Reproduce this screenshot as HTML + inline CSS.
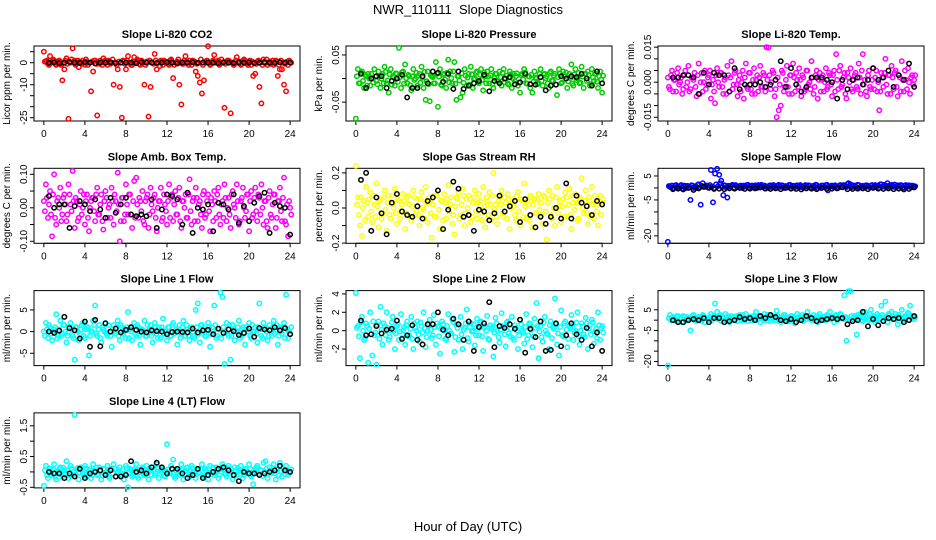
<!DOCTYPE html>
<html><head><meta charset="utf-8"><style>
html,body{margin:0;padding:0;background:#fff}
svg{display:block;font-family:"Liberation Sans",Arial,sans-serif}
</style></head><body>
<svg id="chart" width="936" height="540" viewBox="0 0 936 540">
<text x="468" y="14" text-anchor="middle" font-size="13">NWR_110111&#160; Slope Diagnostics</text>
<text x="468" y="531" text-anchor="middle" font-size="13">Hour of Day (UTC)</text>
</svg>
<script>
// color series A sampled every 12 min (hour = i/5); series B interleaved (hour = i/5 + 0.1); black every 30 min (hour = 0.5*(i+1))
const xTicks = [0,4,8,12,16,20,24];
const titles = ["Slope Li-820 CO2","Slope Li-820 Pressure","Slope Li-820 Temp.","Slope Amb. Box Temp.","Slope Gas Stream RH","Slope Sample Flow","Slope Line 1 Flow","Slope Line 2 Flow","Slope Line 3 Flow","Slope Line 4 (LT) Flow"];
const yTitles = ["Licor ppm per min.","kPa per min.","degrees C per min.","degrees C per min.","percent per min.","ml/min per min.","ml/min per min.","ml/min per min.","ml/min per min.","ml/min per min."];
const yTicks = [[5,0,-5,-10,-15,-20,-25],[-0.05,0,0.05],[-0.015,-0.01,-0.005,0,0.005,0.01,0.015],[-0.1,-0.05,0,0.05,0.1],[-0.2,-0.1,0,0.1,0.2],[5,0,-5,-10,-15,-20],[-5,0,5],[-2,0,2,4],[5,0,-5,-10,-15,-20],[-0.5,0,0.5,1,1.5]];
const yTickLabels = [{"0":"0","-10":"-10","-25":"-25"},{"0.05":"0.05","-0.05":"-0.05"},{"0.015":"0.015","0":"0.000","-0.015":"-0.015"},{"0.1":"0.10","0":"0.00","-0.1":"-0.10"},{"0.2":"0.2","0":"0.0","-0.2":"-0.2"},{"5":"5","-5":"-5","-20":"-20"},{"5":"5","0":"0","-5":"-5"},{"4":"4","2":"2","0":"0","-2":"-2"},{"5":"5","-5":"-5","-20":"-20"},{"1.5":"1.5","0.5":"0.5","-0.5":"-0.5"}];
const yDomains = [[-26.5,7.6],[-0.09,0.069],[-0.0166,0.0155],[-0.106,0.118],[-0.201,0.226],[-23.1,8.2],[-7.85,9.46],[-3.8,4.36],[-22,14.3],[-0.52,1.92]];

const co2 = [5,0.5,-0.5,3,0,1,-1,0.5,-0.5,-8, -3,2,-25.5,0,6.5,1,-0.5,-2,0,1, -1,0.5,0,-13,-4,1,-24,-0.5,0,2, 1,-1,0.5,0,-10,0,-3,-11,-25,0.5, -3,3,0,-1,2.5,0.5,1,-1,0,-10, 0.5,-24.5,-11,0,4,-3,0,1,-1,0.5, 0,-1,1.5,-7,0,0.5,-10,-19,-0.5,3, 0,1,-1,0.5,-4,-6,-9,-14,-8,0, 7.5,-1,0.5,3.5,0,1,-0.5,0,-20.5,0.5, 1,-23,0,-0.5,2.5,0,-1,0.5,1,-0.5, 0,-1,-6,-5,0.5,-11,-18.5,1.5,0,-1, 0.5,0,-1,1,-6,-3,-3,-10,-13,-1, 0];
const co2B = [0.5,1,-1,0,1.5,-0.5,0.5,1,-1,0, 1,-0.5,0.5,1.5,0,-1,1,0.5,-0.5,0, 1.5,-1,0,0.5,1,-0.5,0,1,-1,0.5, 0,1,-0.5,1.5,0,-1,0.5,0,1,-0.5, 1,0,-1,0.5,0,1.5,-0.5,1,0,-1, 0.5,1,0,-0.5,1,0,-1.5,0.5,1,0, -0.5,1,0.5,-1,0,1.5,0,-0.5,1,0.5, -1,0,1,0.5,-0.5,0,1.5,-1,0.5,1, 0,-0.5,1,0,0.5,-1,1.5,0,-0.5,1, 0.5,0,-1,1,0,0.5,-0.5,1.5,0,-1, 1,0.5,0,-0.5,1,0,-1,0.5,1.5,0, -0.5,1,0,0.5,-1,1,0,-0.5,0.5,1, 0];
const co2Avg = [0,0.2,-0.2,0,0.3,0,-0.1,0.2,0,-0.3,0.1,0,0.2,-0.2,0,0.1,0,-0.2,0.3,0,0.1,-0.1,0,0.2,0,-0.3,0.1,0,0.2,-0.1,0,0.1,0,-0.2,0.2,0,-0.1,0.1,0,0.2,-0.2,0,0.1,0,-0.1,0.2,0,0.1];
const pres = [-0.085,0.02,-0.01,0.015,-0.02,0.005,0.01,-0.015,0,0.02, -0.005,0.015,-0.02,0.01,0.025,-0.01,-0.03,0.02,0.005,-0.015, 0.01,0.065,-0.02,0.015,0.03,-0.01,0.005,-0.025,0.02,0, -0.015,0.01,0.025,-0.02,-0.045,0.015,-0.048,0.005,-0.01,0.035, -0.06,0.02,-0.015,0.01,-0.02,0.04,0.015,-0.01,0.035,-0.045, 0.005,-0.04,-0.03,0.02,-0.015,0.01,0.025,-0.02,0,0.015, -0.01,0.02,-0.025,0.005,0.015,-0.01,0.02,-0.02,0.01,-0.005, 0.015,-0.015,0.02,0,-0.01,0.015,-0.02,0.01,0.005,-0.015, -0.03,0.01,0.02,-0.01,0.005,-0.02,-0.03,0.015,0,-0.01, 0.02,-0.015,0.01,0.005,-0.02,0.015,-0.005,0.01,-0.035,0.02, -0.01,0.015,0.005,-0.02,0.01,0.03,-0.015,0.02,0,-0.01, 0.025,-0.02,0.01,0.015,-0.015,0.02,-0.005,0.01,-0.02,0.015, -0.03];
const presB = [0.005,-0.01,0.012,-0.005,0.008,-0.015,0,0.01,-0.008,0.004, -0.012,0.006,0,-0.01,0.014,-0.004,0.009,-0.013,0.002,0.011, -0.007,0.003,0.013,-0.011,0.001,0.008,-0.014,0.005,-0.003,0.012, 0.006,-0.009,0.002,0.014,-0.006,-0.012,0.007,0.003,-0.01,0.01, 0.004,-0.013,0.008,-0.002,0.012,-0.008,0.001,0.015,-0.011,0.005, -0.004,0.011,-0.009,0.006,0.002,-0.013,0.009,-0.001,0.012,-0.007, 0.008,-0.003,0.013,-0.01,0.004,0.007,-0.012,0.001,0.01,-0.006, 0.003,0.012,-0.008,0.006,-0.013,0.009,0,-0.005,0.011,-0.009, 0.007,-0.002,0.013,-0.011,0.004,0.008,-0.007,0.002,-0.012,0.01, -0.005,0.009,0.001,-0.01,0.012,-0.004,0.006,-0.013,0.003,0.011, -0.008,0.005,0.013,-0.006,0.001,-0.011,0.009,-0.003,0.012,-0.009, 0.004,0.01,-0.005,0.007,-0.012,0.002,0.011,-0.007,0.005,-0.002, 0.006];
const presAvg = [0.01,-0.02,0,0.005,0.005,-0.02,-0.005,0,0.008,-0.04,-0.02,-0.02,0.005,-0.01,0.015,0.012,-0.007,0.01,-0.022,0.015,-0.022,-0.015,-0.01,-0.005,0.008,-0.027,-0.005,-0.01,0,0.003,-0.012,-0.008,0.01,-0.012,-0.013,0.003,-0.025,-0.015,-0.013,0.005,0,0.005,0.003,0.01,0,-0.015,0.015,-0.01];
const temp = [0.002,-0.003,0.005,0.001,-0.004,0.006,0,-0.005,0.003,-0.002, 0.007,-0.003,0.002,0.004,-0.006,0.008,0,-0.004,0.005,-0.001, 0.003,-0.007,0.001,-0.009,0.006,-0.002,0.004,-0.005,0.002,0.007, -0.004,0.009,-0.001,0.005,-0.006,0.003,0,-0.007,0.008,-0.003, 0.004,-0.005,0.006,0.001,-0.004,0.007,-0.002,0.003,0.015,0.0148, -0.003,0.005,-0.006,-0.015,-0.012,-0.01,0.004,-0.002,0.007,-0.005, 0.003,0.008,-0.004,0.001,0.006,-0.006,0.002,-0.003,0.005,0, 0.009,-0.005,0.003,-0.007,0.004,0.001,-0.004,0.006,-0.002,0.003, -0.006,0.005,0.012,-0.003,0.007,-0.001,0.004,-0.007,0.002,0.006, -0.004,0.003,-0.002,0.008,-0.005,0.012,0.001,-0.006,0.005,-0.003, 0.006,0.002,-0.004,-0.012,0.004,-0.002,0.01,-0.005,0.003,0.007, -0.003,0.005,-0.006,0.002,0.009,-0.004,0.001,0.006,-0.005,0.003, 0.001];
const tempB = [-0.002,0.003,-0.004,0.001,0.004,-0.001,0.002,-0.003,0.005,0, -0.004,0.002,0.001,-0.002,0.003,-0.005,0.004,0,-0.003,0.002, 0.005,-0.001,-0.004,0.003,0,0.004,-0.002,0.001,-0.005,0.003, 0.002,-0.003,0.004,-0.001,0.001,-0.004,0.005,0.002,-0.002,0.004, -0.003,0.001,-0.005,0.003,0.002,-0.002,0.004,-0.004,0.001,0.003, 0,0.004,-0.003,0.002,-0.001,0.005,-0.004,0.001,-0.002,0.003, -0.005,0.002,0.004,-0.002,0.001,0.003,-0.004,0.005,-0.001,-0.003, 0.002,-0.002,0.005,0.001,-0.004,0.003,0,-0.003,0.004,-0.001, 0.003,-0.004,0.001,0.005,-0.002,0.002,-0.005,0.004,0,-0.003, 0.001,0.004,-0.003,0.002,0.005,-0.001,-0.004,0.003,-0.002,0.001, -0.003,0.005,0,-0.004,0.002,0.004,-0.001,0.003,-0.005,0.002, 0.004,-0.002,0.003,-0.004,0.001,0.005,-0.003,0,0.002,-0.001, 0.003];
const tempAvg = [0.002,0.002,0.003,0.003,0.002,-0.005,0.004,-0.001,0.004,0.003,0.003,-0.004,0.006,-0.003,-0.001,-0.001,-0.001,0,-0.002,-0.001,0.001,0.009,-0.002,0.006,-0.001,-0.004,-0.002,0.002,0.002,0.002,0.001,0,-0.007,0.001,-0.003,0.001,0.002,-0.001,0.001,0.006,0.001,0.002,0.005,-0.002,0.003,0.001,0.008,-0.002];
const amb = [0.02,0.07,-0.03,0.05,-0.085,0.1,-0.05,0.03,0.06,-0.02, 0.04,-0.04,0.07,0.01,0.11,-0.06,0.02,-0.03,0.05,0, -0.05,0.04,-0.07,0.02,0.03,-0.04,0.06,-0.02,0.04,-0.065, 0.05,-0.03,0.01,0.06,-0.05,0.02,0.105,-0.1,0.03,-0.04, 0.07,-0.02,0.04,-0.06,0.08,0.09,-0.03,0.02,0.05,-0.05, 0.03,-0.06,0.06,-0.01,0.04,-0.07,0.02,0.06,-0.03,0.01, -0.05,0.07,0.03,-0.04,0.05,-0.02,0.06,-0.06,0.02,0.04, -0.03,0.085,-0.05,0.03,0.06,-0.04,0.02,-0.06,0.05,-0.02, 0.04,-0.07,0.01,0.05,-0.03,0.06,-0.05,0.02,0.07,-0.04, 0.03,-0.06,0.05,0,0.07,-0.05,0.02,0.06,-0.03,0.04, -0.07,0.05,-0.02,0.06,-0.04,0.03,0.07,-0.05,0.02,-0.06, 0.05,-0.03,0.04,-0.06,0.02,0.06,-0.04,0.09,-0.05,-0.085, 0];
const ambB = [-0.01,0.03,0.01,-0.02,0.04,-0.03,0.02,0,-0.04,0.03, 0.01,-0.02,0.04,-0.01,0.02,0.03,-0.04,0.01,-0.02,0.04, 0.02,-0.03,0,0.03,-0.01,0.04,-0.02,0.01,-0.04,0.02, 0.03,0,-0.03,0.02,0.04,-0.01,0.01,-0.04,0.03,-0.02, 0.01,0.04,-0.02,0.02,-0.03,0.01,0.03,-0.01,-0.04,0.02, 0.04,-0.02,0.01,0.03,-0.03,0,0.02,-0.04,0.04,-0.01, 0.02,-0.03,0.04,0.01,-0.02,0.03,-0.04,0.02,0,-0.03, 0.04,-0.01,0.02,-0.04,0.03,0.01,-0.02,0.04,-0.03,0.02, -0.01,0.03,-0.04,0.02,0.04,-0.02,0.01,-0.03,0.03,0, -0.02,0.04,0.01,-0.03,0.02,-0.04,0.03,0,-0.01,0.04, 0.02,-0.03,0.03,-0.01,0.04,-0.02,0,0.02,-0.04,0.03, -0.02,0.01,0.04,-0.03,0.02,-0.01,0.03,-0.04,0.01,0.02, -0.02];
const ambAvg = [0.035,0,0.01,0.01,-0.06,0.005,0.02,0.01,-0.01,0.025,-0.005,-0.03,0.03,-0.015,0.01,0.03,-0.02,-0.025,-0.02,-0.025,0.025,-0.06,-0.005,0.04,0.035,0.025,-0.05,0.045,-0.075,0,-0.005,0.01,-0.07,0.015,0.01,-0.005,0.04,-0.045,0.005,-0.04,0.015,0.035,0.045,-0.075,0.015,0.005,0,-0.08];
const rh = [0.24,0.06,-0.1,-0.16,0.04,0.12,-0.05,0.09,-0.08,0.02, 0.14,-0.11,0.05,-0.03,0.1,-0.13,0.07,-0.06,0.03,0.11, -0.09,0.04,-0.02,0.08,-0.12,0.06,0.02,-0.07,0.1,-0.04, 0.05,-0.1,0.09,-0.01,0.12,-0.08,0.03,-0.17,0.07,-0.05, 0.1,-0.12,0.04,0.08,-0.06,0.13,0.02,-0.09,-0.15,0.06, 0.09,-0.04,0.11,-0.1,0.05,0.07,-0.08,0.03,0.1,-0.06, 0.08,-0.03,0.12,-0.11,0.04,0.09,-0.07,0.2,0.02,-0.09, 0.06,0.1,-0.05,0.03,0.08,-0.12,0.05,0.01,-0.07,0.09, -0.1,0.04,0.14,-0.06,0.02,0.07,-0.11,0.05,-0.03,0.08, 0.03,-0.09,0.06,-0.18,0.1,-0.04,0.07,-0.1,0.12,0.01, -0.08,0.05,0.09,-0.05,0.11,-0.12,0.03,0.08,-0.07,0.06, 0.17,-0.03,0.1,-0.09,0.04,0.12,-0.06,0.02,-0.1,0.07, 0.03];
const rhB = [0.02,-0.04,0.06,0,-0.07,0.03,0.05,-0.02,0.07,-0.05, 0.01,0.04,-0.06,0.06,-0.01,0.03,-0.04,0.07,0,-0.03, 0.05,-0.06,0.02,0.04,-0.03,0.07,-0.05,0.01,0.06,-0.02, -0.04,0.05,0,-0.06,0.03,0.06,-0.03,0.02,-0.05,0.07, -0.01,0.04,-0.07,0.03,0.05,-0.02,0.06,-0.04,0.01,0.05, -0.06,0.02,0.07,-0.03,0,0.05,-0.05,0.06,-0.02,0.03, 0.04,-0.07,0.01,0.06,-0.04,0.02,0.07,-0.01,-0.05,0.04, 0.02,-0.03,0.06,-0.06,0.05,0,0.03,-0.04,0.07,-0.02, 0.05,-0.05,0.01,0.04,-0.07,0.06,0.02,-0.03,0.05,-0.01, -0.04,0.07,-0.02,0.03,0.05,-0.06,0,0.06,-0.03,0.04, 0.01,-0.05,0.06,0.02,-0.04,0.07,-0.01,0.03,-0.06,0.05, 0,0.04,-0.03,0.06,-0.05,0.02,0.07,-0.02,0.04,-0.04, 0.05];
const rhAvg = [0.16,0.2,-0.13,0.06,-0.03,-0.15,0.03,0.08,-0.02,-0.04,-0.05,0.01,-0.06,0.04,0.06,0.1,-0.12,-0.01,0.15,0.11,-0.05,-0.04,-0.13,-0.01,-0.02,-0.07,-0.03,0.07,-0.02,0.01,0.04,-0.08,0.05,-0.04,-0.11,-0.05,-0.09,-0.05,0,-0.06,0.14,-0.06,0.07,0.03,0.01,-0.04,0.04,0.02];
const sflow = [-22.5,0.5,1,0,1.2,0.3,0.8,-0.3,1,0.5, 0.2,-5,1,0.5,0,1.5,-7,2,0.5,1, 0,7.5,-6,6,8,5.5,3,-3,1,-4, 0.5,1,0,1.2,0.4,0.8,0,1,0.6,1.3, 0.2,1,0.5,0,1.2,0.8,0.3,1,0.5,0, 1.1,0.4,0.8,0,1.3,0.5,1,0.2,0.7,1.2, 0,0.9,0.4,1.1,0.3,0.8,0,1.2,0.5,1, 0.2,0.9,1.3,0,0.6,1,0.3,1.2,-1,0.5, 1,0.3,0.8,0,1.2,0.5,1,0.4,2,1.5, 0.5,1,0,1.2,0.6,0.9,0.2,1.1,0.5,1, 0.3,1.2,0.8,0,1.5,0.6,1,2,0.4,1.3, 0.8,0.2,1.1,0.5,1,0,1.2,0.6,0.9,1, 0.5];
const sflowB = [0.8,0.3,-0.2,1,0.5,0.1,1.2,0.6,-0.1,0.9, 0.4,1.1,0,0.7,1.3,0.2,0.9,0.5,1,0.3, 1.2,0.6,0,1.5,0.8,2,0.4,1.1,0.2,0.9, 0.6,1.3,0.1,0.8,0.4,1,0.2,0.7,1.2,0.3, 0.9,0.5,1.1,0,0.7,1.3,0.4,0.8,0.1,1, 0.6,1.2,0.3,0.9,0.5,1.1,0,0.8,0.4,1.3, 0.7,0.2,1,0.5,1.2,0.3,0.9,0.6,1.1,0.1, 0.8,0.4,1.2,0.7,0,1,0.5,1.3,0.3,0.9, 0.6,1.1,0.2,0.8,0.4,1.2,0.7,1.6,0.9,0.3, 1,0.5,1.3,0.1,0.8,0.4,1.1,0.6,0.2,1.2, 0.7,0.3,1,1.5,0.5,1.3,0.2,0.9,1.1,0.6, 1.4,0.4,0.8,1.2,0.3,1,0.6,1.1,0.2,0.9, 0.7];
const sflowAvg = [-0.5,-0.3,-0.6,0,-0.8,-0.2,0.5,0.3,-0.4,-0.3,-0.5,-0.2,-0.3,0,-0.4,-0.3,-0.2,0.2,-0.3,-0.4,-0.2,-0.5,0,-0.3,-0.4,-0.6,-0.2,-0.3,-0.5,0,-0.4,-0.3,-0.2,0.3,-0.5,-0.4,-0.3,-0.2,-0.5,0,-0.3,-0.4,-0.2,-0.5,-0.3,-0.6,-0.4,0.2];
const line1 = [0,2,-1.5,1,-2,0.5,4,-1,2.5,-0.5, 1.5,-2.5,0,2,-1,-6.5,1,-2,0.5,2, -1.5,1,-5.5,0,2.5,6,-1,1.5,-2.5,0.5, 2,-1,0,-3.5,1.5,-0.5,2.5,-2,1,0, -1.5,4.5,0.5,-2,2,-1,1,-3,0.5,2.5, -1,0,1.5,-2.5,2,-0.5,1,-1.5,3,0, -2,1,-1,2,0,-3,1.5,-0.5,2.5,-1, 0.5,-2,1,-1,5,6.5,-2.5,1.5,0,-1, 2,-3.5,1,6,-1.5,0.5,9,8,-7.5,2, -1,-6.5,1.5,-2,0,2.5,-1,1,-3,0.5, 2,-1.5,0,1,-2.5,6.5,-1,2,0.5,-2, 1.5,-1,2.5,0,-3,1,-0.5,2,8.5,-1.5, -0.5];
const line1B = [-1,0.5,1.5,-0.5,0,1,-1.5,0.5,-1,1.5, 0,-1,1,0.5,-1.5,1,0,-0.5,1.5,-1, 0.5,1,-1,0,1.5,-0.5,0.5,-1.5,1,0, -0.5,1.5,-1,0.5,0,1,-1,1.5,-0.5,0.5, 1,-1.5,0,1,-0.5,1.5,-1,0.5,0,-1, 1.5,0.5,-1,0,1,-1.5,0.5,1,-0.5,0, 1,-1,1.5,-0.5,0.5,0,-1.5,1,0,1.5, -1,0.5,0,-1.5,1,-0.5,1.5,0,-1,0.5, 1,-0.5,0,1.5,-1,0.5,-1.5,1,0,-0.5, 1.5,-1,0.5,0,1,-1.5,0.5,-0.5,1,0, -1,1.5,0,-0.5,1,0.5,-1.5,1,0,-1, 0.5,1,-0.5,1.5,-1,0,1,-1.5,0.5,0, 1];
const line1Avg = [0,-0.3,0.2,3.4,0.8,0.3,-1.6,2.3,-3.5,2.7,-3.4,1.9,0,0.7,-0.2,0.4,1,0.4,0,-0.2,0.3,0.1,0,-0.6,-0.1,0,-0.1,-0.2,0.7,-0.2,0.3,0.4,-0.6,0.7,-0.3,0.5,0.1,-0.8,-0.3,0.7,-1.2,0.8,0.5,0.3,1,0.3,0.8,-0.6];
const line2 = [4.1,0.5,-3,1.5,-1,0.8,-3.5,2,-2.7,-0.5, -3.7,1,2.6,-1.5,0.5,2,-1,0,1.5,-2, 0.5,-1,1.8,0,-1.5,1,-0.5,1.5,-2,0.3, 1,-1.2,0.5,2,-1.8,0,1.2,-0.8,1.7,-1.5, 0.5,-2.5,1,0,-1,1.8,-0.3,1.2,-2.3,0.7, -1,1.5,-2,0.3,2.3,-1.2,0.8,0,-1.6,1.3, -0.5,1,-2.2,0.5,1.6,-1,0.2,-2.8,1.4,0, -1.3,1.9,0.4,-1.7,1,-0.6,1.5,-1,0.3,-2, 1.2,0,-1.4,1.8,-0.5,0.7,-1.8,1.3,3,-3, 0.5,-1.2,1.5,-0.3,-2,1,0.4,3.5,-1.5,-2.7, 2.2,-0.6,1,-1.8,0.5,1.7,-1,0,2,-1.5, 0.8,-0.4,1.4,-2,0.6,1.2,-1.4,0.2,2,-1, 0.5];
const line2B = [0.3,-0.6,0.9,0,-0.8,0.5,0.2,-0.4,1,-0.2, 0.6,-0.9,0.1,0.8,-0.5,0.3,-0.7,0.9,0,-0.3, 0.7,-0.1,-0.8,0.4,0.6,-0.6,0.2,-0.9,0.8,0, -0.4,0.9,-0.2,0.3,-0.7,0.6,0.1,-0.5,0.4,0.8, -0.6,0.2,0.7,-0.9,0.5,0,-0.3,0.9,-0.7,0.3, 0.6,-0.4,0.1,0.8,-0.8,0.4,-0.1,0.7,-0.5,0.2, 0.9,-0.6,0.3,0,-0.9,0.6,0.4,-0.2,0.8,-0.7, 0.1,0.5,-0.4,0.9,-0.3,0.2,-0.8,0.6,0,-0.5, 0.7,-0.2,0.4,-0.9,0.8,0.1,-0.6,0.3,0.5,-0.1, -0.7,0.9,0,-0.4,0.6,-0.8,0.2,0.7,-0.3,0.4, -0.5,0.8,0.1,-0.9,0.3,0.6,-0.2,0.9,-0.6,0, 0.5,-0.7,0.8,0.2,-0.4,0.9,-0.1,-0.8,0.6,0.3, -0.2];
const line2Avg = [1.1,-0.5,-0.4,0.5,-0.3,0.1,0.2,1.1,-0.9,-0.5,0.6,-1,-1.5,0.7,0.7,2,0.1,-0.5,1.3,0.7,-1,1,-2.2,0.4,0.8,3.1,-1.8,0.5,0.3,0.7,0.2,1.2,-2.4,0.2,-0.7,1,-2.2,-2.1,0.8,-1.7,-0.5,0.8,-0.4,-1,0.3,-1.7,-0.2,-2.2];
const line3 = [-22,2.5,0,1,-0.5,2,0.5,-1,1.5,0, 1,-5,2,0,-0.5,1.5,0.5,2.5,-1,1, 0,3,1.5,8,4,2,-0.5,1,3,0.5, -1,2,0.5,1.5,-0.5,2.5,0,1,3,-0.5, 1.5,0,2,4,0.5,-1,1,3,0,1.5, -0.5,2,1,4.5,0,-1,1.5,2.5,0.5,-0.5, 2,1,-1.5,3,0.5,1.5,-0.5,2,4,1, 0,2.5,1,-1,3,0.5,1.5,0,2,4, 1,-1,2.5,0.5,3,1.5,12,-10,14,14, 0.5,2,-7,1,3,-0.5,4,1.5,0,5, 2,-1,3,0.5,7,1.5,9,-1,2.5,4, 0.5,3,-2,1.5,5,0,2,3.5,7,1, 0.5];
const line3B = [1,0,1.5,0.5,2,-0.5,1,2,0,1.5, 0.5,1,2.5,0,1,1.5,-0.5,2,1,0.5, 1.5,0,2,1,0.5,2.5,1,0,1.5,2, 0.5,1,0,2,1.5,0.5,2.5,0,1,1.5, 0,2,1,0.5,1.5,2,0,1,2.5,0.5, 1,1.5,0,2,0.5,1,2.5,1.5,0,1, 2,0.5,1,1.5,0,2.5,1,0.5,2,1.5, 0,1,2,0.5,1.5,1,0,2.5,1,0.5, 1.5,2,0,1,2.5,0.5,1.5,1,0,2, 1,0.5,2.5,1.5,0,1,2,0.5,3,1, 1.5,0,2,1,2.5,0.5,1.5,3,1,2, 0.5,1.5,2.5,1,0,2,1.5,3,1,2, 1.5];
const line3Avg = [0,-1,-1,0,0.5,0,1,-1,1,1,-1,-0.5,0,1.5,0.5,1,0,2,1,2.5,1.5,0,-0.5,0.5,-1,0,2,1,-0.5,0,0.5,1,0.5,1,-2,-0.5,0,4,-3,0.5,-2.5,-0.5,1,0.5,1,-1,0,2];
const line4 = [-0.45,0.2,-0.2,0.1,-0.1,0.25,-0.25,0,0.15,-0.15, 0.05,0.35,-0.2,0.2,-0.1,1.85,0.1,-0.25,0.15,-0.05, 0.2,-0.15,0.05,-0.2,0.25,0,-0.1,0.15,-0.25,0.1, -0.05,0.2,-0.2,0.1,0.25,-0.15,0,0.15,-0.1,-0.25, 0.2,-0.5,0.1,-0.15,0.05,0.25,-0.2,0,0.15,-0.1, 0.2,-0.25,0.05,0.15,-0.1,0.25,-0.2,0,0.1,-0.15, 0.9,-0.05,0.2,0.4,-0.2,0.1,-0.1,0.25,-0.25,0.05, 0.15,-0.15,0.2,0,-0.2,0.1,-0.05,0.25,-0.15,0.05, -0.25,0.2,0,-0.1,0.15,-0.2,0.1,0.25,-0.05,-0.15, 0.2,0,-0.25,0.15,-0.1,0.05,0.2,-0.2,0.1,-0.05, 0.25,-0.15,-0.4,0.1,0.2,-0.1,0.05,0.3,0.35,-0.2, 0.15,-0.05,0.25,-0.25,0.1,0.3,-0.15,0.05,0.2,-0.1, 0];
const line4B = [0.05,-0.1,0.12,-0.03,0.08,-0.15,0.02,0.1,-0.08,0.14, -0.05,0.06,-0.12,0.1,0,-0.09,0.13,-0.02,0.07,-0.13, 0.11,-0.04,0.09,-0.1,0.03,0.14,-0.07,0.05,-0.12,0.08, 0.01,-0.14,0.1,-0.05,0.12,-0.01,0.06,-0.11,0.09,-0.06, 0.13,-0.02,0.04,-0.09,0.11,-0.13,0.07,0,0.1,-0.08, 0.03,0.12,-0.1,0.06,-0.04,0.14,-0.07,0.09,-0.12,0.02, 0.08,-0.05,0.11,-0.14,0.04,0.1,-0.03,0.07,-0.09,0.13, -0.06,0.01,0.12,-0.1,0.05,-0.02,0.09,-0.13,0.11,0, 0.07,-0.08,0.14,-0.04,0.03,-0.11,0.1,0.06,-0.07,0.12, -0.01,0.08,-0.12,0.04,0.13,-0.06,0.02,-0.1,0.09,-0.03, 0.11,-0.09,0.05,0.14,-0.05,0.07,-0.13,0.01,0.1,-0.07, 0.06,0.12,-0.04,0.09,-0.11,0.03,0.13,-0.08,0.04,-0.02, 0.08];
const line4Avg = [0,-0.05,-0.05,-0.2,-0.05,-0.15,0.1,-0.2,-0.05,0,0.05,-0.1,0.05,-0.15,-0.15,-0.1,0.35,0,0.05,-0.05,0.15,0.3,0.15,-0.05,0.1,0.1,-0.05,-0.2,-0.1,0.1,-0.2,-0.1,0,0.1,0.15,0.05,-0.1,-0.3,0,-0.05,-0.05,-0.1,-0.05,0,0.05,0.2,0.05,0];

const seriesColor = [co2,pres,temp,amb,rh,sflow,line1,line2,line3,line4];
const seriesColorB = [co2B,presB,tempB,ambB,rhB,sflowB,line1B,line2B,line3B,line4B];
const seriesBlack = [co2Avg,presAvg,tempAvg,ambAvg,rhAvg,sflowAvg,line1Avg,line2Avg,line3Avg,line4Avg];
const colors = ["#ff0000","#00cc00","#ff00ff","#ff00ff","#ffff00","#0000ff","#00ffff","#00ffff","#00ffff","#00ffff"];
const names = ["co2","pressure","li820-temp","amb-box-temp","gas-stream-rh","sample-flow","line1-flow","line2-flow","line3-flow","line4-flow"];

const NS = "http://www.w3.org/2000/svg";
const svg = document.getElementById("chart");
function mk(tag, attrs, parent){ const e=document.createElementNS(NS,tag); for(const k in attrs) e.setAttribute(k,attrs[k]); (parent||svg).appendChild(e); return e; }

for(let p=0;p<10;p++){
  const col=p%3, row=Math.floor(p/3);
  const bx=34+col*312, by=46+row*122.3, bw=266, bh=75;
  const dom=yDomains[p];
  const xs=t=>bx+(t+0.96)/25.92*bw;
  const ys=v=>by+bh-(v-dom[0])/(dom[1]-dom[0])*bh;
  const g=mk("g",{});
  
  
  const ti=mk("text",{x:bx+bw/2,y:by-8,"text-anchor":"middle","font-size":"11","font-weight":"bold"},g);
  ti.textContent=titles[p];
  
  
  const yt=mk("text",{x:0,y:0,"text-anchor":"middle","font-size":"10",transform:`translate(${bx-24},${by+bh/2}) rotate(-90)`},g);
  yt.textContent=yTitles[p];
  
  
  const xa=mk("g",{},g);
  
  
  mk("line",{x1:xs(0),x2:xs(24),y1:by+bh,y2:by+bh,stroke:"#000"},xa);
  xTicks.forEach(t=>{
    mk("line",{x1:xs(t),x2:xs(t),y1:by+bh,y2:by+bh+4,stroke:"#000"},xa);
    const tl=mk("text",{x:xs(t),y:by+bh+16,"text-anchor":"middle","font-size":"10"},xa);
    tl.textContent=String(t);
    
    
  });
  const ya=mk("g",{},g);
  
  
  const yk=yTicks[p];
  mk("line",{x1:bx,x2:bx,y1:ys(Math.min(...yk)),y2:ys(Math.max(...yk)),stroke:"#000"},ya);
  yk.forEach(v=>{
    mk("line",{x1:bx-4,x2:bx,y1:ys(v),y2:ys(v),stroke:"#000"},ya);
    const lab=yTickLabels[p][String(v)];
    if(lab!==undefined){
      const tl=mk("text",{x:0,y:0,"text-anchor":"middle","font-size":"10",transform:`translate(${bx-7},${ys(v)}) rotate(-90)`},ya);
      tl.textContent=lab;
      
      
    }
  });
  const box=mk("rect",{x:bx,y:by,width:bw,height:bh,fill:"none",stroke:"#000"},g);
  
  
  const cg=mk("g",{fill:"none",stroke:colors[p],"stroke-width":"1.5"},g);
  
  
  seriesColorB[p].forEach((v,i)=>{
    const c=mk("circle",{cx:xs(i/5+0.1),cy:ys(v),r:2.2},cg);
    
    
  });
  seriesColor[p].forEach((v,i)=>{
    const c=mk("circle",{cx:xs(i/5),cy:ys(v),r:2.2},cg);
    
    
  });
  const kg=mk("g",{fill:"none",stroke:"#000","stroke-width":"1.5"},g);
  
  
  seriesBlack[p].forEach((v,i)=>{
    const c=mk("circle",{cx:xs(0.5*(i+1)),cy:ys(v),r:2.2},kg);
    
    
  });
}
</script>
</body></html>
